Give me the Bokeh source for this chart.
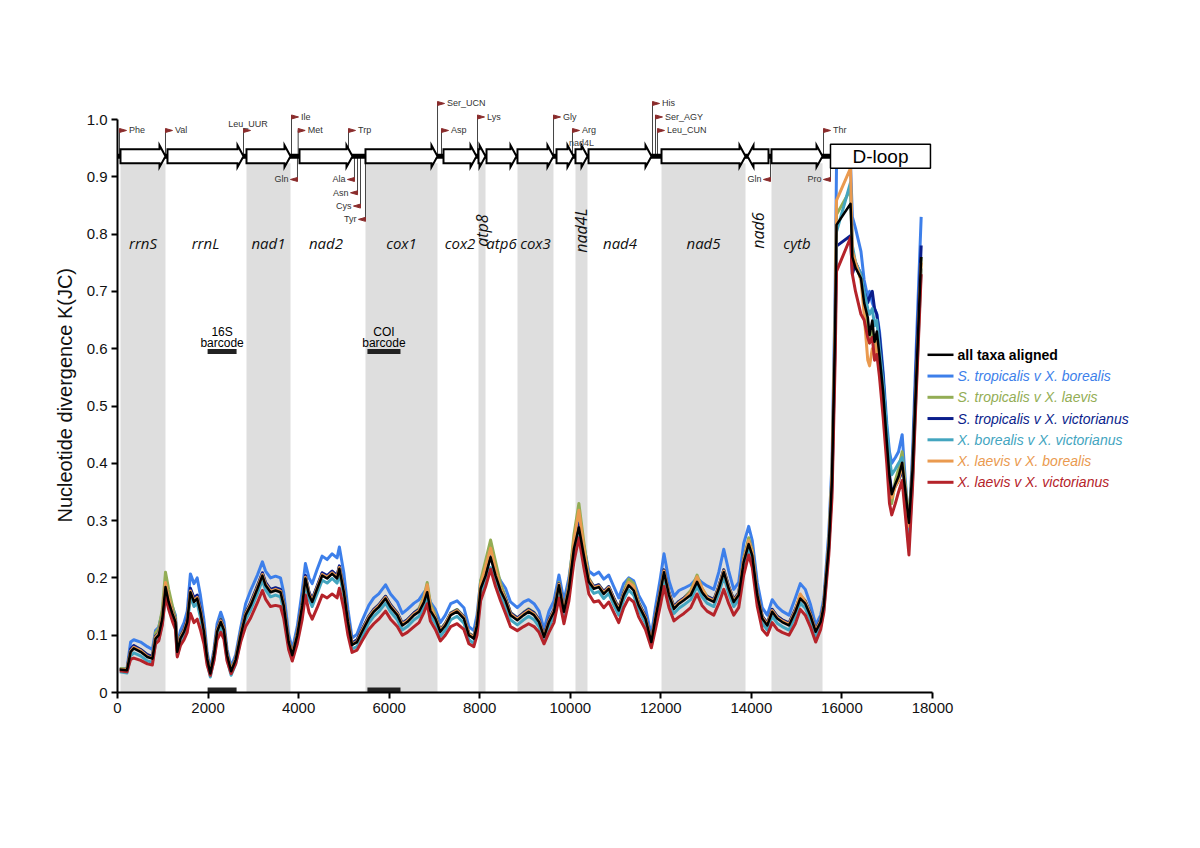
from bokeh.plotting import figure
from bokeh.models import FixedTicker, Label, Range1d, CustomJSTickFormatter
from bokeh.core.properties import value
from bokeh.embed import file_html
from bokeh.resources import INLINE

# ---------------- data ----------------
window_mid = [50, 210, 290, 360, 510, 660, 770, 840, 910, 990,
              1060, 1130, 1210, 1280, 1320, 1390, 1470, 1540, 1610, 1690,
              1760, 1830, 1910, 1980, 2050, 2130, 2200, 2280, 2350, 2420,
              2510, 2610, 2720, 2830, 2940, 3090, 3200, 3270, 3380, 3490,
              3600, 3670, 3780, 3860, 3970, 4080, 4150, 4230, 4300, 4410,
              4520, 4630, 4740, 4850, 4900, 5000, 5090, 5180, 5290, 5400,
              5550, 5660, 5770, 5920, 6030, 6180, 6290, 6400, 6550, 6660,
              6770, 6840, 6910, 7020, 7130, 7240, 7360, 7500, 7650, 7760,
              7870, 7940, 8020, 8130, 8240, 8350, 8460, 8570, 8680, 8830,
              8970, 9080, 9200, 9310, 9420, 9530, 9640, 9750, 9860, 9970,
              10080, 10190, 10300, 10410, 10520, 10630, 10740, 10850, 10960, 11070,
              11180, 11290, 11400, 11510, 11660, 11790, 11880, 11990, 12070, 12180,
              12290, 12400, 12510, 12660, 12800, 12910, 13020, 13170, 13280, 13390,
              13500, 13610, 13720, 13830, 13940, 14020, 14130, 14240, 14350, 14460,
              14570, 14680, 14830, 14970, 15080, 15190, 15300, 15420, 15530, 15600,
              15710, 15780, 15850, 15880, 16190, 16230, 16300, 16420, 16490, 16570,
              16610, 16670, 16720, 16770, 16830, 16910, 16990, 17050, 17100, 17180,
              17250, 17330, 17400, 17480, 17560, 17640, 17750]

all_taxa = [.040, .039, .071, .077, .071, .062, .059, .094, .100, .129,
            .184, .158, .138, .123, .071, .094, .106, .123, .175, .158,
            .164, .141, .106, .059, .033, .065, .106, .123, .109, .065,
            .037, .057, .100, .135, .152, .181, .204, .187, .175, .178,
            .175, .152, .088, .065, .100, .152, .199, .170, .158, .181,
            .204, .199, .207, .199, .216, .175, .123, .083, .088, .106,
            .129, .141, .149, .164, .149, .135, .117, .123, .135, .141,
            .158, .175, .143, .129, .106, .117, .135, .141, .129, .100,
            .094, .117, .181, .204, .236, .204, .178, .160, .135, .126,
            .135, .141, .135, .123, .097, .123, .141, .187, .141, .181,
            .251, .288, .239, .193, .181, .184, .172, .181, .161, .143,
            .170, .187, .178, .152, .129, .088, .129, .175, .210, .170,
            .146, .155, .161, .170, .193, .175, .164, .158, .181, .210,
            .181, .158, .170, .228, .259, .239, .170, .129, .117, .141,
            .129, .123, .117, .141, .164, .155, .135, .106, .123, .152,
            .257, .372, .636, .816, .853, .760, .741, .723, .680, .655,
            .624, .649, .612, .630, .587, .525, .438, .377, .346, .364,
            .377, .401, .352, .296, .389, .544, .760]

trop_bor = [.041, .042, .088, .092, .088, .080, .075, .108, .114, .140,
            .190, .168, .150, .135, .082, .108, .122, .142, .207, .190,
            .200, .170, .126, .070, .040, .075, .120, .140, .124, .075,
            .045, .066, .113, .155, .178, .205, .228, .212, .200, .203,
            .200, .175, .102, .075, .115, .178, .225, .200, .190, .215,
            .238, .232, .242, .235, .254, .208, .145, .095, .102, .125,
            .152, .165, .172, .188, .172, .158, .138, .145, .156, .162,
            .175, .180, .158, .145, .122, .135, .155, .160, .148, .115,
            .108, .135, .195, .215, .238, .212, .195, .182, .158, .148,
            .158, .162, .155, .142, .110, .142, .160, .205, .160, .200,
            .262, .300, .255, .212, .205, .210, .198, .205, .185, .165,
            .190, .200, .195, .170, .148, .100, .148, .200, .242, .195,
            .168, .178, .182, .188, .200, .192, .186, .180, .210, .250,
            .212, .180, .192, .260, .290, .265, .192, .148, .135, .162,
            .150, .142, .135, .165, .190, .180, .155, .118, .135, .165,
            .280, .400, .700, .918, .921, .830, .810, .770, .720, .690,
            .700, .680, .670, .660, .630, .560, .470, .420, .400, .410,
            .420, .450, .370, .290, .420, .600, .830]

trop_lae = [.042, .041, .075, .081, .075, .066, .062, .104, .112, .145,
            .210, .180, .152, .130, .076, .100, .110, .126, .178, .162,
            .168, .145, .110, .062, .035, .068, .110, .128, .113, .068,
            .040, .060, .104, .140, .156, .186, .208, .191, .179, .182,
            .180, .157, .092, .068, .104, .156, .203, .174, .162, .185,
            .208, .203, .211, .203, .220, .179, .127, .086, .092, .110,
            .133, .145, .153, .168, .153, .139, .121, .127, .139, .147,
            .168, .192, .155, .135, .110, .121, .139, .145, .133, .104,
            .098, .121, .195, .230, .266, .228, .190, .166, .140, .130,
            .140, .146, .140, .127, .100, .127, .145, .192, .145, .190,
            .275, .330, .262, .200, .185, .188, .176, .185, .165, .147,
            .176, .198, .190, .158, .133, .091, .133, .179, .214, .174,
            .150, .159, .165, .178, .205, .182, .168, .162, .185, .214,
            .185, .162, .174, .235, .270, .248, .175, .133, .121, .145,
            .133, .127, .121, .145, .170, .160, .139, .110, .127, .156,
            .262, .380, .640, .834, .878, .770, .750, .720, .680, .620,
            .610, .630, .600, .620, .570, .500, .420, .370, .330, .370,
            .390, .420, .360, .300, .400, .550, .760]

trop_vic = [.040, .040, .076, .082, .075, .066, .063, .098, .104, .132,
            .186, .162, .142, .126, .074, .098, .110, .128, .182, .165,
            .170, .147, .110, .061, .034, .067, .110, .127, .113, .067,
            .038, .059, .103, .139, .157, .186, .209, .192, .180, .183,
            .180, .157, .091, .067, .103, .157, .204, .175, .163, .186,
            .209, .204, .212, .204, .221, .180, .128, .086, .092, .110,
            .133, .145, .153, .168, .153, .139, .121, .127, .139, .145,
            .160, .175, .146, .132, .109, .120, .138, .144, .132, .103,
            .097, .120, .183, .207, .240, .207, .181, .164, .139, .130,
            .139, .145, .139, .127, .100, .127, .145, .190, .145, .185,
            .255, .295, .243, .197, .185, .188, .176, .185, .165, .147,
            .174, .190, .182, .156, .133, .091, .133, .179, .214, .174,
            .150, .159, .165, .174, .190, .172, .168, .162, .185, .214,
            .185, .162, .174, .232, .263, .243, .174, .133, .121, .145,
            .133, .127, .121, .145, .168, .159, .139, .109, .127, .156,
            .255, .360, .620, .779, .797, .730, .750, .730, .700, .680,
            .690, .700, .670, .660, .620, .550, .450, .380, .350, .360,
            .370, .390, .350, .290, .390, .570, .780]

bor_vic = [.036, .034, .064, .069, .064, .055, .053, .086, .092, .120,
           .172, .150, .130, .115, .064, .086, .098, .115, .168, .150,
           .156, .132, .098, .052, .027, .058, .098, .115, .101, .058,
           .030, .050, .093, .127, .144, .173, .196, .179, .167, .170,
           .167, .144, .080, .058, .093, .144, .191, .162, .150, .173,
           .196, .191, .199, .191, .208, .167, .115, .076, .080, .098,
           .121, .133, .141, .156, .141, .127, .109, .115, .127, .133,
           .150, .165, .135, .121, .098, .109, .127, .133, .121, .092,
           .086, .109, .170, .192, .218, .192, .168, .150, .127, .118,
           .127, .133, .127, .115, .090, .115, .133, .178, .133, .172,
           .240, .275, .228, .185, .173, .176, .164, .173, .153, .135,
           .162, .179, .170, .144, .121, .081, .121, .167, .202, .162,
           .138, .147, .153, .162, .185, .167, .156, .150, .173, .202,
           .173, .150, .162, .218, .250, .230, .162, .121, .109, .133,
           .121, .115, .109, .133, .156, .147, .127, .098, .115, .144,
           .250, .370, .630, .804, .890, .780, .750, .730, .700, .670,
           .660, .670, .640, .650, .600, .540, .460, .410, .380, .390,
           .400, .410, .330, .260, .370, .530, .740]

lae_bor = [.040, .040, .072, .079, .073, .063, .060, .096, .103, .132,
           .192, .165, .141, .125, .072, .096, .108, .125, .177, .160,
           .166, .143, .108, .060, .034, .066, .108, .125, .111, .066,
           .038, .058, .102, .137, .154, .183, .206, .189, .177, .180,
           .177, .154, .089, .066, .102, .154, .201, .172, .160, .183,
           .206, .201, .209, .201, .218, .177, .125, .084, .089, .108,
           .131, .143, .151, .166, .151, .137, .119, .125, .137, .143,
           .165, .188, .150, .131, .108, .119, .137, .143, .131, .102,
           .096, .119, .188, .220, .252, .215, .182, .162, .137, .128,
           .137, .143, .137, .125, .098, .125, .143, .189, .143, .185,
           .265, .318, .252, .197, .183, .186, .174, .183, .163, .145,
           .172, .192, .185, .154, .131, .089, .131, .177, .212, .172,
           .148, .157, .163, .175, .202, .182, .166, .160, .183, .212,
           .183, .160, .172, .232, .265, .245, .172, .131, .119, .143,
           .131, .125, .119, .143, .172, .158, .137, .108, .125, .154,
           .258, .380, .650, .859, .915, .770, .750, .720, .660, .580,
           .570, .600, .590, .610, .560, .500, .420, .360, .340, .360,
           .370, .400, .350, .290, .380, .540, .750]

lae_vic = [.038, .036, .058, .060, .056, .050, .048, .085, .090, .118,
           .168, .145, .125, .110, .062, .082, .092, .105, .138, .122,
           .128, .110, .085, .048, .030, .055, .092, .105, .093, .055,
           .033, .050, .088, .115, .130, .157, .178, .163, .150, .152,
           .150, .130, .075, .055, .085, .128, .170, .140, .128, .148,
           .170, .165, .172, .165, .182, .145, .100, .070, .074, .090,
           .110, .120, .128, .142, .128, .115, .100, .105, .115, .122,
           .140, .155, .125, .110, .090, .100, .115, .120, .110, .085,
           .080, .100, .160, .185, .215, .185, .160, .138, .115, .108,
           .115, .120, .115, .105, .085, .105, .122, .165, .120, .160,
           .228, .270, .218, .172, .158, .160, .148, .158, .140, .122,
           .148, .165, .158, .132, .110, .078, .110, .152, .185, .148,
           .125, .132, .138, .148, .172, .152, .142, .135, .155, .180,
           .155, .135, .148, .205, .240, .218, .150, .110, .100, .122,
           .110, .105, .100, .120, .145, .135, .115, .088, .110, .140,
           .240, .340, .580, .735, .794, .730, .700, .660, .650, .620,
           .610, .620, .580, .590, .550, .480, .400, .330, .310, .330,
           .350, .370, .310, .240, .360, .520, .730]

series_labels = ["all taxa aligned",
                 "S. tropicalis v X. borealis",
                 "S. tropicalis v X. laevis",
                 "S. tropicalis v X. victorianus",
                 "X. borealis v X. victorianus",
                 "X. laevis v X. borealis",
                 "X. laevis v X. victorianus"]

gene_names = ["rrnS", "rrnL", "nad1", "nad2", "cox1", "cox2", "atp8", "atp6", "cox3",
              "nad3", "nad4L", "nad4", "nad5", "nad6", "cytb"]
gene_start = [66, 1104, 2849, 4020, 5477, 7200, 7973, 8150, 8834,
              9696, 10115, 10403, 12015, 13914, 14444]
gene_end = [1060, 2783, 3821, 5190, 7067, 7929, 8128, 8812, 9629,
            10071, 10380, 11794, 13870, 14378, 15571]
gene_strand = ["+", "+", "+", "+", "+", "+", "+", "+", "+",
               "+", "+", "+", "+", "-", "+"]
shaded_genes = ["rrnS", "nad1", "cox1", "atp8", "cox3", "nad4L", "nad5", "cytb"]
dloop_start, dloop_end = 15747, 17955

trna_names = ["Phe", "Val", "Leu_UUR", "Ile", "Gln", "Met", "Trp", "Ala", "Asn", "Cys", "Tyr",
              "Ser_UCN", "Asp", "Lys", "Gly", "Arg", "His", "Ser_AGY", "Leu_CUN",
              "Gln", "Pro", "Thr"]
trna_pos = [44, 1060, 2783, 3843, 3975, 3990, 5102, 5234, 5301, 5367, 5477,
            7068, 7156, 7951, 9630, 10049, 11816, 11882, 11926,
            14422, 15747, 15593]
trna_strand = ["+", "+", "+", "+", "-", "+", "+", "-", "-", "-", "-",
               "+", "+", "+", "+", "+", "+", "+", "+",
               "-", "-", "+"]
trna_tier = [1, 1, 1, 2, 1, 1, 1, 1, 2, 3, 4,
             3, 1, 2, 2, 1, 3, 2, 1,
             1, 1, 1]

barcode_names = ["16S", "COI"]
barcode_start = [1990, 5520]
barcode_end = [2630, 6250]

x_ticks = [0, 2000, 4000, 6000, 8000, 10000, 12000, 14000, 16000, 18000]
y_ticks = [0, 0.1, 0.2, 0.3, 0.4, 0.5, 0.6, 0.7, 0.8, 0.9, 1.0]

# ---------------- layout ----------------
W, H = 1192, 840
BL, BR, BT, BB = 117, 10, 92, 148
X_MAX = 18000
PX_PER_BP = 815.0 / X_MAX
PX_PER_UNIT = 573.0
x_end = (W - BL - BR) / PX_PER_BP
y_end = (H - BT - BB) / PX_PER_UNIT


def dx(px):
    return px / PX_PER_BP


def dy(px):
    return px / PX_PER_UNIT


FONT = "Liberation Sans"
GENE_FONT = "Open Sans"

p = figure(width=W, height=H, x_range=Range1d(0, x_end), y_range=Range1d(0, y_end),
           output_backend="svg", toolbar_location=None, title=None,
           min_border_left=BL, min_border_right=BR, min_border_top=BT, min_border_bottom=BB)
p.outline_line_color = None
p.xgrid.visible = False
p.ygrid.visible = False
p.background_fill_color = "white"
p.border_fill_color = "white"

# axes
xa = p.xaxis[0]
ya = p.yaxis[0]
xa.bounds = (0, X_MAX)
ya.bounds = (0, 1.0)
xa.ticker = FixedTicker(ticks=x_ticks)
ya.ticker = FixedTicker(ticks=y_ticks)
xa.formatter = CustomJSTickFormatter(code="return tick.toFixed(0);")
ya.formatter = CustomJSTickFormatter(code="return tick == 0 ? '0' : tick.toFixed(1);")
for ax in (xa, ya):
    ax.axis_line_width = 2
    ax.axis_line_color = "black"
    ax.major_tick_line_width = 2
    ax.major_tick_line_color = "black"
    ax.major_tick_out = 6
    ax.major_tick_in = 0
    ax.minor_tick_line_color = None
    ax.major_label_text_font = FONT
    ax.major_label_text_font_size = "15px"
    ax.major_label_text_color = "#111111"
    ax.major_label_standoff = 4
ya.axis_label = "Nucleotide divergence  K(JC)"
ya.axis_label_text_font = FONT
ya.axis_label_text_font_size = "20px"
ya.axis_label_text_font_style = "normal"
ya.axis_label_text_color = "#111111"
ya.axis_label_standoff = 8

# gene shading
MID = 0.936
BODY = dy(7)
HEAD = dy(11)
HEADLEN = dx(6)
sh_l, sh_r = [], []
for n, s, e in zip(gene_names, gene_start, gene_end):
    if n in shaded_genes:
        sh_l.append(s)
        sh_r.append(e)
p.quad(left=sh_l, right=sh_r, bottom=0, top=MID - BODY, fill_color="#dedede", line_color=None)

# barcode bars (bottom of axis and labelled bars)
BAR_Y = 0.595
p.quad(left=barcode_start, right=barcode_end, bottom=0, top=dy(5), fill_color="#222222", line_color=None)
p.quad(left=barcode_start, right=barcode_end, bottom=BAR_Y - dy(2.5), top=BAR_Y + dy(2.5),
       fill_color="#222222", line_color=None)
bc_mid = [(s + e) / 2 for s, e in zip(barcode_start, barcode_end)]
p.text(x=bc_mid, y=[BAR_Y + dy(20)] * len(bc_mid), text=barcode_names, text_font=value(FONT),
       text_font_size="12px", text_align="center", text_baseline="middle", text_color="black")
p.text(x=bc_mid, y=[BAR_Y + dy(9)] * len(bc_mid), text=["barcode"] * len(bc_mid), text_font=value(FONT),
       text_font_size="12px", text_align="center", text_baseline="middle", text_color="black")

# curves
curve_set = [(trop_bor, "#3d7fea", 3), (trop_lae, "#93ad55", 3), (trop_vic, "#0b1e8c", 3),
             (bor_vic, "#43a5bf", 3), (lae_bor, "#ea9a4f", 3), (lae_vic, "#b5232a", 3)]
for vals, col, lw in curve_set:
    p.line(window_mid, vals, line_color=col, line_width=lw, line_join="round")
p.line(window_mid, all_taxa, line_color="black", line_width=2.5, line_join="round")

# tRNA stems, flags, labels
st_x, st_y0, st_y1 = [], [], []
fl_xs, fl_ys = [], []
lab_r = {"x": [], "y": [], "t": []}
lab_l = {"x": [], "y": [], "t": []}
lab_c = {"x": [], "y": [], "t": []}
for name, pos, strand, tier in zip(trna_names, trna_pos, trna_strand, trna_tier):
    if strand == "+":
        y = MID + dy(25.7 + (tier - 1) * 13.5)
        d = 1
    else:
        y = MID - dy(23.3 + (tier - 1) * 13.3)
        d = -1
    st_x.append(pos)
    st_y0.append(MID)
    st_y1.append(y)
    fl_xs.append([pos, pos + d * dx(7), pos])
    fl_ys.append([y + dy(2), y, y - dy(2)])
    if name == "Leu_UUR":
        lab_c["x"].append(pos + dx(4.5))
        lab_c["y"].append(y + dy(6))
        lab_c["t"].append(name)
    elif d == 1:
        lab_r["x"].append(pos + dx(9.5))
        lab_r["y"].append(y)
        lab_r["t"].append(name)
    else:
        lab_l["x"].append(pos - dx(9))
        lab_l["y"].append(y)
        lab_l["t"].append(name)
p.segment(x0=st_x, y0=st_y0, x1=st_x, y1=st_y1, line_color="#444444", line_width=1)

# backbone and gene arrows
p.line([0, dloop_start], [MID, MID], line_color="black", line_width=5)
ar_xs, ar_ys = [], []
for s, e, strand in zip(gene_start, gene_end, gene_strand):
    yy = [MID - BODY, MID - BODY, MID - HEAD, MID, MID + HEAD, MID + BODY, MID + BODY]
    if strand == "+":
        xx = [s, e - HEADLEN, e - HEADLEN, e, e - HEADLEN, e - HEADLEN, s]
    else:
        xx = [e, s + HEADLEN, s + HEADLEN, s, s + HEADLEN, s + HEADLEN, e]
    ar_xs.append(xx)
    ar_ys.append(yy)
p.patches(ar_xs, ar_ys, fill_color="white", line_color="black", line_width=2, line_join="miter")

p.patches(fl_xs, fl_ys, fill_color="#8a2c2c", line_color="#8a2c2c", line_width=1)
for d, align in ((lab_r, "left"), (lab_l, "right"), (lab_c, "center")):
    p.text(x=d["x"], y=d["y"], text=d["t"], text_font=value(FONT), text_font_size="9px",
           text_align=align, text_baseline="middle", text_color="#333333")

# small gene-map label for nad4L
i4l = gene_names.index("nad4L")
p.text(x=[(gene_start[i4l] + gene_end[i4l]) / 2], y=[MID + dy(13)], text=["nad4L"],
       text_font=value(FONT), text_font_size="9px", text_align="center",
       text_baseline="middle", text_color="#444444")

# D-loop box
p.quad(left=[dloop_start], right=[dloop_end], bottom=[MID - dy(12)], top=[MID + dy(12)],
       fill_color="white", line_color="black", line_width=1.5)
p.text(x=[(dloop_start + dloop_end) / 2], y=[MID], text=["D-loop"], text_font=value(FONT),
       text_font_size="19px", text_align="center", text_baseline="middle", text_color="black")

# gene names
vertical_labels = ["atp8", "nad4L", "nad6"]
unlabelled = ["nad3"]
hx, hy, ht, vx, vy, vt = [], [], [], [], [], []
for n, s, e in zip(gene_names, gene_start, gene_end):
    if n in unlabelled:
        continue
    c = (s + e) / 2
    if n in vertical_labels:
        vx.append(c)
        vy.append(0.806)
        vt.append(n)
    else:
        hx.append(c)
        hy.append(0.784)
        ht.append(n)
p.text(x=hx, y=hy, text=ht, text_font=value(GENE_FONT), text_font_size="15px",
       text_font_style="italic", text_align="center", text_baseline="middle", text_color="#111111")
p.text(x=vx, y=vy, text=vt, text_font=value(GENE_FONT), text_font_size="16px", angle=1.5708,
       text_font_style="italic", text_align="center", text_baseline="middle", text_color="#111111")

# legend (drawn manually)
leg_colors = ["black", "#3d7fea", "#93ad55", "#0b1e8c", "#43a5bf", "#ea9a4f", "#b5232a"]
LEG_X0 = dx(927 - 117)
LEG_X1 = dx(953 - 117)
LEG_TX = dx(957 - 117)
LEG_Y0 = dy(692 - 354.3)
LEG_STEP = dy(21.25)
for i, (lab, col) in enumerate(zip(series_labels, leg_colors)):
    yy = LEG_Y0 - i * LEG_STEP
    p.line([LEG_X0, LEG_X1], [yy, yy], line_color=col, line_width=2.5 if i == 0 else 3)
    p.text(x=[LEG_TX], y=[yy], text=[lab], text_font=value(FONT), text_font_size="14px",
           text_font_style="bold" if i == 0 else "italic", text_align="left",
           text_baseline="middle", text_color=col)

# x axis title
p.add_layout(Label(x=X_MAX / 2, y=-dy(67), text="Sliding window scale", text_font=FONT,
                   text_font_size="17px", text_align="center", text_baseline="middle",
                   text_color="#111111"))
p.add_layout(Label(x=X_MAX / 2, y=-dy(86), text="(midpoint of window=300 bp, step=10 bp)",
                   text_font=FONT, text_font_size="11px", text_align="center",
                   text_baseline="middle", text_color="#111111"))

open("out.html", "w").write(file_html(p, INLINE))
